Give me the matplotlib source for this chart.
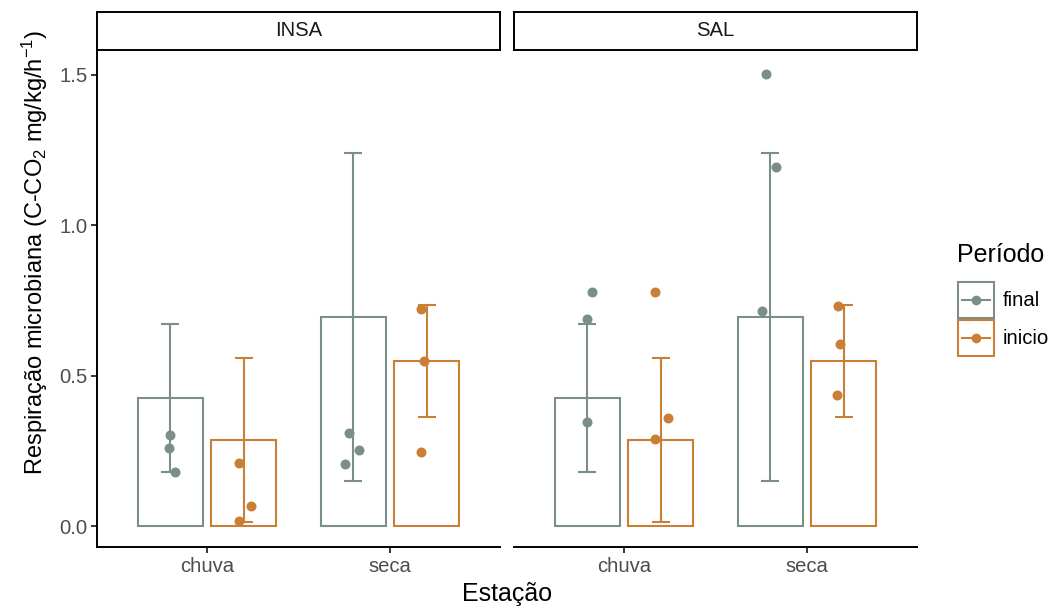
import numpy as np
import pandas as pd
import matplotlib
matplotlib.use('Agg')
import matplotlib.pyplot as plt
from matplotlib.patches import Rectangle
from matplotlib.lines import Line2D

# ordem das leituras: chuva-final, chuva-inicio, seca-final, seca-inicio (3 cada)
locais = ['INSA', 'SAL']
estacoes = ['chuva', 'seca']
periodos = ['final', 'inicio']

resp_insa = [0.303, 0.261, 0.181, 0.208, 0.066, 0.018,
             0.308, 0.253, 0.206, 0.723, 0.550, 0.246]
resp_sal = [0.777, 0.690, 0.346, 0.777, 0.358, 0.290,
            1.503, 1.195, 0.714, 0.733, 0.605, 0.436]

# deslocamento do jitter (unidades do eixo x)
jit_insa = [0.000, -0.005, 0.026, -0.027, 0.042, -0.027,
            -0.025, 0.030, -0.046, -0.033, -0.015, -0.033]
jit_sal = [0.025, -0.004, 0.000, -0.032, 0.043, -0.028,
           -0.027, 0.031, -0.045, -0.031, -0.020, -0.035]

est_col = ['chuva'] * 6 + ['seca'] * 6
per_col = (['final'] * 3 + ['inicio'] * 3) * 2

cores = {'final': '#7A8F8A', 'inicio': '#C97F35'}

df = pd.concat([
    pd.DataFrame({'local': 'INSA', 'estacao': est_col, 'periodo': per_col,
                  'resp': resp_insa, 'jit': jit_insa}),
    pd.DataFrame({'local': 'SAL', 'estacao': est_col, 'periodo': per_col,
                  'resp': resp_sal, 'jit': jit_sal}),
])
# media +- desvio padrao (todos os locais juntos)
resumo = df.groupby(['estacao', 'periodo'])['resp'].agg(['mean', 'std'])

plt.rcParams['font.family'] = ['Liberation Sans', 'DejaVu Sans']
plt.rcParams['mathtext.fontset'] = 'custom'
plt.rcParams['mathtext.rm'] = 'Liberation Sans'
plt.rcParams['mathtext.default'] = 'regular'

W, H = 1062, 612
fig = plt.figure(figsize=(W / 100, H / 100), dpi=100)

def box(x0, y0, w, h):
    return [x0 / W, 1 - (y0 + h) / H, w / W, h / H]

dodge = {'final': -0.2, 'inicio': 0.2}
larg = 0.355
tick_col = '#4D4D4D'

for i, loc in enumerate(locais):
    x0 = 97 if i == 0 else 514
    ax = fig.add_axes(box(x0, 50, 403, 497))
    for est_i, est in enumerate(estacoes):
        for per in periodos:
            xc = est_i + dodge[per]
            m, s = resumo.loc[(est, per)]
            ax.bar(xc, m, width=larg, fill=False, edgecolor=cores[per], linewidth=1.5, zorder=1)
            ax.errorbar(xc, m, yerr=s, fmt='none', ecolor=cores[per], elinewidth=1.5,
                        capsize=6.5, capthick=1.5, zorder=2)
            sub = df[(df.local == loc) & (df.estacao == est) & (df.periodo == per)]
            ax.plot(xc + sub.jit, sub.resp, 'o', color=cores[per], markersize=7.2,
                    markeredgewidth=0, zorder=3)
    ax.set_xlim(-0.6, 1.6)
    ax.set_ylim(-21 / 300.7, 476 / 300.7)
    ax.set_xticks([0, 1])
    ax.set_xticklabels(estacoes)
    ax.spines['top'].set_visible(False)
    ax.spines['right'].set_visible(False)
    ax.spines['bottom'].set_linewidth(1.4)
    ax.spines['left'].set_linewidth(1.4)
    ax.tick_params(colors='black', labelcolor=tick_col, labelsize=14.6,
                   length=4, width=1.1, pad=3)
    if i == 0:
        ax.set_yticks([0, 0.5, 1.0, 1.5])
        ax.set_yticklabels(['0.0', '0.5', '1.0', '1.5'])
    else:
        ax.spines['left'].set_visible(False)
        ax.set_yticks([])
    # faixa do facet
    st = fig.add_axes(box(x0, 12, 403, 38))
    st.set_xticks([])
    st.set_yticks([])
    for sp in st.spines.values():
        sp.set_linewidth(1.4)
    st.text(0.5, 0.5, loc, ha='center', va='center', fontsize=14.6, color='#1A1A1A',
            transform=st.transAxes)

fig.text(35 / W, 1 - 252 / H, 'Respiração microbiana (C-CO$_2$ mg/kg/h$^{-1}$)',
         rotation=90, ha='center', va='center', fontsize=17)
fig.text(507 / W, 1 - 594 / H, 'Estação', ha='center', va='center', fontsize=18)

# legenda
lg = fig.add_axes([0, 0, 1, 1])
lg.set_xlim(0, W)
lg.set_ylim(H, 0)
lg.axis('off')
lg.text(957, 255, 'Período', ha='left', va='center', fontsize=18)
for k, per in enumerate(periodos):
    y0 = 281 + 38 * k
    lg.add_patch(Rectangle((958, y0 + 1), 36, 36, fill=False, edgecolor=cores[per], linewidth=1.5))
    lg.add_line(Line2D([962, 990], [y0 + 19, y0 + 19], color=cores[per], linewidth=1.5))
    lg.plot([976], [y0 + 19], 'o', color=cores[per], markersize=7, markeredgewidth=0)
    lg.text(1003, y0 + 19, per, ha='left', va='center', fontsize=14.6)

fig.savefig('out.png', dpi=100)
